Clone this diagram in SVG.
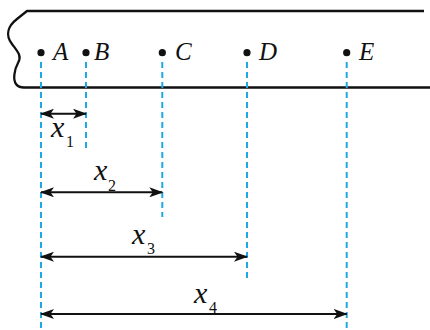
<svg xmlns="http://www.w3.org/2000/svg" width="430" height="330" viewBox="0 0 430 330">
<defs>
<style>
.tape{fill:none;stroke:#111;stroke-width:2.3;stroke-linejoin:round}
.dash{stroke:#1EA9E4;stroke-width:2;stroke-dasharray:6,4;fill:none}
.dim{stroke:#111;stroke-width:2;fill:none}
.dot{fill:#111}
</style>
<marker id="ah" viewBox="0 0 14 10" refX="13" refY="5" markerWidth="14" markerHeight="10" markerUnits="userSpaceOnUse" orient="auto-start-reverse">
<path d="M0,0 L14,5 L0,10 L3.5,5 Z" fill="#111"/>
</marker>
</defs>
<g id="tape">
<path class="tape" d="M 424 11 L 27 11 L 17 19 C 8 26, 5 35, 12 44 C 18 52, 22 56, 18 63 C 14 70, 13 80, 16 84 C 18 87, 20 87.5, 24 87.5 L 430 87.5"/>
</g>
<g id="connectors">
<line class="dash" x1="41" y1="62" x2="41" y2="330"/>
<line class="dash" x1="86" y1="62" x2="86" y2="148"/>
<line class="dash" x1="162.3" y1="62" x2="162.3" y2="217"/>
<line class="dash" x1="247" y1="62" x2="247" y2="281"/>
<line class="dash" x1="346.7" y1="62" x2="346.7" y2="330"/>
<line class="dim" x1="41" y1="113.7" x2="86" y2="113.7" marker-start="url(#ah)" marker-end="url(#ah)"/>
<line class="dim" x1="41" y1="192.3" x2="162.3" y2="192.3" marker-start="url(#ah)" marker-end="url(#ah)"/>
<line class="dim" x1="41" y1="256.7" x2="247" y2="256.7" marker-start="url(#ah)" marker-end="url(#ah)"/>
<line class="dim" x1="41" y1="314" x2="346.7" y2="314" marker-start="url(#ah)" marker-end="url(#ah)"/>
</g>
<g font-family="Liberation Serif, serif" fill="#111">
<g id="A" font-style="italic" font-size="25"><circle class="dot" cx="41" cy="52.7" r="3.6"/><text x="53" y="59.5">A</text></g>
<g id="B" font-style="italic" font-size="25"><circle class="dot" cx="86" cy="52.7" r="3.6"/><text x="94" y="59.5">B</text></g>
<g id="C" font-style="italic" font-size="25"><circle class="dot" cx="162.3" cy="52.7" r="3.6"/><text x="175" y="59.5">C</text></g>
<g id="D" font-style="italic" font-size="25"><circle class="dot" cx="247" cy="52.7" r="3.6"/><text x="259" y="59.5">D</text></g>
<g id="E" font-style="italic" font-size="25"><circle class="dot" cx="346.7" cy="52.7" r="3.6"/><text x="359" y="59.5">E</text></g>
<g id="x1"><text font-style="italic" font-size="30" x="51" y="137">x</text><text font-size="16" x="66" y="147">1</text></g>
<g id="x2"><text font-style="italic" font-size="30" x="94" y="180">x</text><text font-size="16" x="108" y="191">2</text></g>
<g id="x3"><text font-style="italic" font-size="30" x="132" y="244">x</text><text font-size="16" x="147" y="254">3</text></g>
<g id="x4"><text font-style="italic" font-size="30" x="194" y="302.5">x</text><text font-size="16" x="209" y="313">4</text></g>
</g>
</svg>
